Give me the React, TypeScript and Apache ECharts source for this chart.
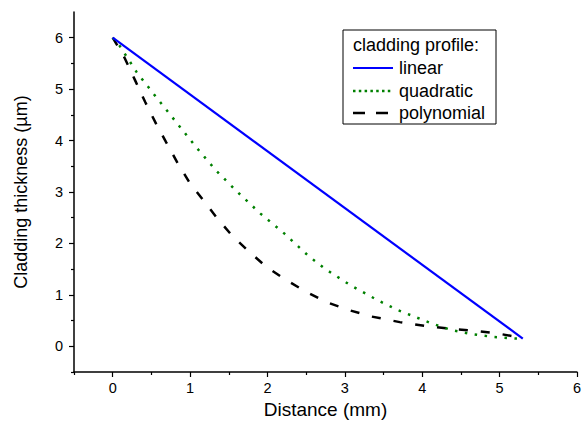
import React, { useEffect, useRef } from "react";
import * as echarts from "echarts";

const xMajorTicks = [0, 1, 2, 3, 4, 5, 6];
const xMinorTicks = [-0.5, 0.5, 1.5, 2.5, 3.5, 4.5, 5.5];
const yMajorTicks = [0, 1, 2, 3, 4, 5, 6];
const yMinorTicks = [-0.5, 0.5, 1.5, 2.5, 3.5, 4.5, 5.5];

const linearData = [
  [0, 6.0],
  [5.3, 0.15],
];

const quadraticData = [
  [0, 6.0], [0.086, 5.85], [0.31, 5.33], [0.57, 4.83], [0.83, 4.34],
  [1.085, 3.86], [1.34, 3.41], [1.62, 2.99], [1.91, 2.58], [2.22, 2.19],
  [2.52, 1.77], [2.74, 1.51], [3.07, 1.19], [3.43, 0.89], [3.69, 0.7],
  [4.13, 0.44], [4.39, 0.31], [4.67, 0.23], [4.93, 0.18], [5.21, 0.15],
  [5.3, 0.15],
];

const polynomialData = [
  [0, 6.0], [0.15, 5.62], [0.29, 5.17], [0.42, 4.75], [0.56, 4.33],
  [0.69, 3.97], [0.84, 3.56], [0.99, 3.19], [1.17, 2.84], [1.35, 2.49],
  [1.55, 2.14], [1.77, 1.83], [1.99, 1.54], [2.25, 1.28], [2.5, 1.06],
  [2.76, 0.86], [3.04, 0.71], [3.34, 0.58], [3.71, 0.47], [4.07, 0.39],
  [4.37, 0.34], [4.67, 0.3], [4.97, 0.25], [5.27, 0.17],
];

const seriesNames = ["linear", "quadratic", "polynomial"];
const legendTitle = "cladding profile:";
const xTitle = "Distance (mm)";
const yTitle = "Cladding thickness (\u00b5m)";

const FONT = "'Liberation Sans', Arial, sans-serif";

export default function App() {
  const ref = useRef<HTMLDivElement>(null);

  useEffect(() => {
    if (!ref.current) return;
    const chart = echarts.init(ref.current, undefined, { renderer: "svg" });

    const axisCommon = {
      type: "value" as const,
      splitLine: { show: false },
    };

    const lx = 343, ly = 30;
    const legendRows = [
      { y: 68, color: "#0000ff", dash: null as number[] | null, width: 2.2 },
      { y: 91, color: "#008000", dash: [2.5, 3.3], width: 2.5 },
      { y: 113, color: "#000000", dash: [12, 11], width: 2.5 },
    ];

    const graphic: any[] = [
      {
        type: "rect",
        shape: { x: lx, y: ly, width: 153, height: 94 },
        style: { fill: "#ffffff", stroke: "#000000", lineWidth: 1 },
        z: 100,
      },
      {
        type: "text",
        x: 353,
        y: 45,
        style: {
          text: legendTitle,
          font: `18px ${FONT}`,
          fill: "#000",
          verticalAlign: "middle",
          align: "left",
        },
        z: 101,
      },
    ];
    legendRows.forEach((r, i) => {
      graphic.push({
        type: "line",
        shape: { x1: 353, y1: r.y, x2: 393, y2: r.y },
        style: {
          stroke: r.color,
          lineWidth: r.width,
          lineDash: r.dash || undefined,
        },
        z: 101,
      });
      graphic.push({
        type: "text",
        x: 399,
        y: r.y,
        style: {
          text: seriesNames[i],
          font: `18px ${FONT}`,
          fill: "#000",
          verticalAlign: "middle",
          align: "left",
        },
        z: 101,
      });
    });

    chart.setOption({
      animation: false,
      backgroundColor: "#ffffff",
      textStyle: { fontFamily: FONT },
      grid: { left: 74, right: 4, top: 12, bottom: 57, containLabel: false },
      xAxis: [
        {
          ...axisCommon,
          min: -0.5,
          max: 6,
          position: "bottom",
          name: xTitle,
          nameLocation: "middle",
          nameGap: 28,
          nameTextStyle: { fontSize: 19, color: "#000", fontFamily: FONT },
          axisLine: { show: true, onZero: false, lineStyle: { color: "#000", width: 1.5 } },
          axisTick: { show: true, length: 5, customValues: xMajorTicks, lineStyle: { color: "#000", width: 1.2 } },
          axisLabel: { show: true, customValues: xMajorTicks, fontSize: 14.5, color: "#000", margin: 8, fontFamily: FONT },
        },
        {
          ...axisCommon,
          min: -0.5,
          max: 6,
          position: "bottom",
          axisLine: { show: false, onZero: false },
          axisTick: { show: true, length: 3, customValues: xMinorTicks, lineStyle: { color: "#000", width: 1.2 } },
          axisLabel: { show: false },
        },
      ],
      yAxis: [
        {
          ...axisCommon,
          min: -0.5,
          max: 6.5,
          position: "left",
          name: yTitle,
          nameLocation: "middle",
          nameGap: 44,
          nameTextStyle: { fontSize: 18, color: "#000", fontFamily: FONT },
          axisLine: { show: true, onZero: false, lineStyle: { color: "#000", width: 1.5 } },
          axisTick: { show: true, length: 5, customValues: yMajorTicks, lineStyle: { color: "#000", width: 1.2 } },
          axisLabel: { show: true, customValues: yMajorTicks, fontSize: 14.5, color: "#000", margin: 11, fontFamily: FONT },
        },
        {
          ...axisCommon,
          min: -0.5,
          max: 6.5,
          position: "left",
          axisLine: { show: false, onZero: false },
          axisTick: { show: true, length: 3, customValues: yMinorTicks, lineStyle: { color: "#000", width: 1.2 } },
          axisLabel: { show: false },
        },
      ],
      series: [
        {
          name: seriesNames[0],
          type: "line",
          data: linearData,
          symbol: "none",
          lineStyle: { color: "#0000ff", width: 2.2 },
          z: 3,
        },
        {
          name: seriesNames[1],
          type: "line",
          data: quadraticData,
          symbol: "none",
          lineStyle: { color: "#008000", width: 2.5, type: [2.5, 7.5] },
          z: 2,
        },
        {
          name: seriesNames[2],
          type: "line",
          data: polynomialData,
          symbol: "none",
          lineStyle: { color: "#000000", width: 2.5, type: [9, 13] },
          z: 1,
        },
      ],
      graphic,
    });

    return () => chart.dispose();
  }, []);

  return <div ref={ref} style={{ width: 584, height: 429, position: "absolute", left: 0, top: 0 }} />;
}
